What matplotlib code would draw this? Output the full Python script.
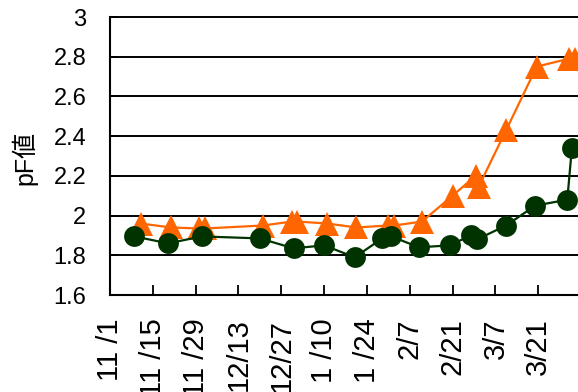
import matplotlib
matplotlib.use("Agg")
import matplotlib.pyplot as plt

plt.rcParams['font.family'] = ['Liberation Sans', 'Noto Sans CJK JP', 'DejaVu Sans']

# Days counted from 11/1
tick_days = [0, 14, 28, 42, 56, 70, 84, 98, 112, 126, 140]
tick_labels = ["11 /1", "11 /15", "11 /29", "12/13", "12/27", "1 /10", "1 /24",
               "2/7", "2/21", "3/7", "3/21"]

orange_days = [10, 20, 29, 31, 50, 59.5, 61, 71, 80.5, 91, 93, 102, 112,
               119.5, 120.5, 129.5, 139.5, 150, 152]
orange_pf = [1.96, 1.94, 1.935, 1.935, 1.95, 1.97, 1.97, 1.96, 1.94, 1.95,
             1.95, 1.97, 2.10, 2.20, 2.145, 2.43, 2.75, 2.79, 2.79]

green_days = [8, 19, 30, 49, 60, 70, 80, 89, 92, 101, 111, 118, 120,
              129.5, 139, 149.5, 151]
green_pf = [1.895, 1.86, 1.895, 1.885, 1.835, 1.85, 1.79, 1.885, 1.895, 1.84,
            1.85, 1.90, 1.88, 1.95, 2.05, 2.08, 2.34]

y_ticks = [1.6, 1.8, 2.0, 2.2, 2.4, 2.6, 2.8, 3.0]
y_tick_labels = ["1.6", "1.8", "2", "2.2", "2.4", "2.6", "2.8", "3"]

fig = plt.figure(figsize=(5.78, 3.92), dpi=100)
ax = fig.add_axes([110 / 578, 1 - 295 / 392, 1 - 110 / 578, (295 - 17) / 392])

ax.set_xlim(0, 153)
ax.set_ylim(1.6, 3.0)

for y in y_ticks[1:]:
    ax.axhline(y, color="black", lw=1.4, zorder=1, clip_on=False)

ax.plot(orange_days, orange_pf, color="#FF6600", lw=1.6, marker="^",
        markersize=17, markeredgewidth=0, zorder=3)
ax.plot(green_days, green_pf, color="#003300", lw=1.6, marker="o",
        markersize=15, markeredgewidth=0, zorder=4)

ax.set_xticks(tick_days)
ax.set_xticklabels(tick_labels, rotation=90, fontsize=21)
ax.set_yticks(y_ticks)
ax.set_yticklabels(y_tick_labels, fontsize=17)

ax.tick_params(axis="x", direction="in", length=7, width=1.3, pad=17)
ax.tick_params(axis="y", direction="in", length=6, width=1.3, pad=17)

for side in ("top", "right"):
    ax.spines[side].set_visible(False)
for side in ("left", "bottom"):
    ax.spines[side].set_linewidth(1.5)

fig.text(24 / 578, 1 - 158 / 392, "pF値", rotation=90, ha="center",
         va="center", fontsize=18)

fig.savefig("out.png", dpi=100)
